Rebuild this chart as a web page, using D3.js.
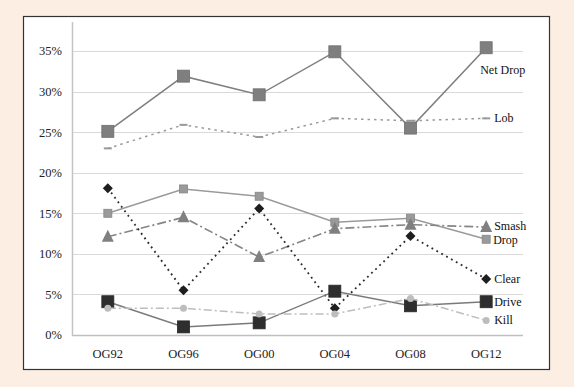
<!DOCTYPE html>
<html>
<head>
<meta charset="utf-8">
<script src="https://cdn.jsdelivr.net/npm/d3@7"></script>
<style>
  html, body { margin: 0; padding: 0; background: #fdeee3; }
  #chart { width: 574px; height: 387px; }
  svg text { font-family: "Liberation Serif", "DejaVu Serif", serif; }
</style>
</head>
<body>
<div id="chart"></div>
<script>
// Shot share per Olympic Games
const categories = ['OG92', 'OG96', 'OG00', 'OG04', 'OG08', 'OG12'];
const yTicks = [0, 5, 10, 15, 20, 25, 30, 35];

const netDrop = [25.1, 31.9, 29.6, 34.9, 25.5, 35.4];
const lob     = [23.0, 25.9, 24.4, 26.7, 26.4, 26.7];
const drop    = [15.0, 18.0, 17.1, 13.9, 14.4, 11.8];
const smash   = [12.1, 14.5, 9.6, 13.1, 13.6, 13.3];
const clear   = [18.1, 5.5, 15.6, 3.3, 12.2, 6.9];
const drive   = [4.1, 1.0, 1.5, 5.4, 3.6, 4.1];
const kill    = [3.3, 3.3, 2.6, 2.6, 4.5, 1.8];

const seriesNames = ['Net Drop', 'Lob', 'Drop', 'Smash', 'Clear', 'Drive', 'Kill'];
const seriesValues = [netDrop, lob, drop, smash, clear, drive, kill];

// style per series (lines + markers)
const styles = {
  'Net Drop': { line: '#7f7f7f', width: 1.5, dash: null, marker: 'square', size: 12, fill: '#7f7f7f', labelDx: -6, labelDy: 26 },
  'Lob':      { line: '#9a9a9a', width: 1.5, dash: '2.5,4', marker: 'dash', size: 8, fill: '#9a9a9a', labelDx: 8, labelDy: 4 },
  'Drop':     { line: '#9a9a9a', width: 1.5, dash: null, marker: 'square', size: 8, fill: '#9a9a9a', labelDx: 7, labelDy: 5 },
  'Smash':    { line: '#858585', width: 1.6, dash: '9,3,2,3', marker: 'triangle', size: 12, fill: '#808080', labelDx: 8, labelDy: 3 },
  'Clear':    { line: '#2a2a2a', width: 1.8, dash: '1.8,3.8', marker: 'diamond', size: 10, fill: '#1e1e1e', labelDx: 8, labelDy: 4 },
  'Drive':    { line: '#7a7a7a', width: 1.5, dash: null, marker: 'square', size: 12, fill: '#2e2e2e', labelDx: 8, labelDy: 4 },
  'Kill':     { line: '#bdbdbd', width: 1.5, dash: '8,3,2,3', marker: 'circle', size: 7, fill: '#bdbdbd', labelDx: 8, labelDy: 4 }
};

const W = 574, H = 387;
const svg = d3.select('#chart').append('svg').attr('width', W).attr('height', H);

// white panel
svg.append('rect')
  .attr('x', 23.5).attr('y', 16.5).attr('width', 526).attr('height', 353)
  .attr('fill', '#ffffff').attr('stroke', '#333').attr('stroke-width', 1.2);

const x = d3.scaleBand().domain(categories).range([70, 524]);
const y = d3.scaleLinear().domain([0, 35]).range([335, 51]);

// gridlines
svg.append('g').selectAll('line').data(yTicks).enter().append('line')
  .attr('x1', 72).attr('x2', 523)
  .attr('y1', d => Math.round(y(d)) + 0.5).attr('y2', d => Math.round(y(d)) + 0.5)
  .attr('stroke', d => d === 0 ? '#bfbfbf' : '#d9d9d9').attr('stroke-width', d => d === 0 ? 1.5 : 1);

// y axis line
svg.append('line').attr('x1', 72.5).attr('x2', 72.5).attr('y1', 22).attr('y2', 336)
  .attr('stroke', '#c4c4c4').attr('stroke-width', 1.5);

// y tick labels
svg.append('g').selectAll('text').data(yTicks).enter().append('text')
  .attr('x', 62).attr('y', d => y(d)).attr('dy', '0.35em')
  .attr('text-anchor', 'end').attr('font-size', 12.5).attr('fill', '#222')
  .text(d => d + '%');

// x labels
svg.append('g').selectAll('text').data(categories).enter().append('text')
  .attr('x', d => x(d) + x.bandwidth() / 2).attr('y', 358)
  .attr('text-anchor', 'middle').attr('font-size', 12.5).attr('fill', '#222')
  .text(d => d);

const cx = i => x(categories[i]) + x.bandwidth() / 2;
const line = d3.line().x((d, i) => cx(i)).y(d => y(d));

function drawMarker(g, type, px, py, size, fill) {
  const h = size / 2;
  if (type === 'square') {
    g.append('rect').attr('x', px - h).attr('y', py - h).attr('width', size).attr('height', size)
      .attr('fill', fill).attr('stroke', d3.color(fill).darker(0.4)).attr('stroke-width', 0.8);
  } else if (type === 'triangle') {
    g.append('path').attr('d', `M${px},${py - h - 1}L${px + h},${py + h - 1}L${px - h},${py + h - 1}Z`).attr('fill', fill);
  } else if (type === 'diamond') {
    g.append('path').attr('d', `M${px},${py - h}L${px + h},${py}L${px},${py + h}L${px - h},${py}Z`).attr('fill', fill);
  } else if (type === 'circle') {
    g.append('circle').attr('cx', px).attr('cy', py).attr('r', h).attr('fill', fill);
  } else if (type === 'dash') {
    g.append('line').attr('x1', px - h).attr('x2', px + h).attr('y1', py).attr('y2', py)
      .attr('stroke', fill).attr('stroke-width', 2);
  }
}

seriesNames.forEach((name, si) => {
  const s = styles[name];
  const vals = seriesValues[si];
  const g = svg.append('g');
  g.append('path').datum(vals).attr('d', line)
    .attr('fill', 'none').attr('stroke', s.line).attr('stroke-width', s.width)
    .attr('stroke-dasharray', s.dash);
  vals.forEach((v, i) => drawMarker(g, s.marker, cx(i), y(v), s.size, s.fill));
  // direct label at the last point
  const last = vals.length - 1;
  g.append('text')
    .attr('x', cx(last) + s.labelDx).attr('y', y(vals[last]) + s.labelDy)
    .attr('font-size', 12).attr('fill', '#111')
    .text(name);
});
</script>
</body>
</html>
